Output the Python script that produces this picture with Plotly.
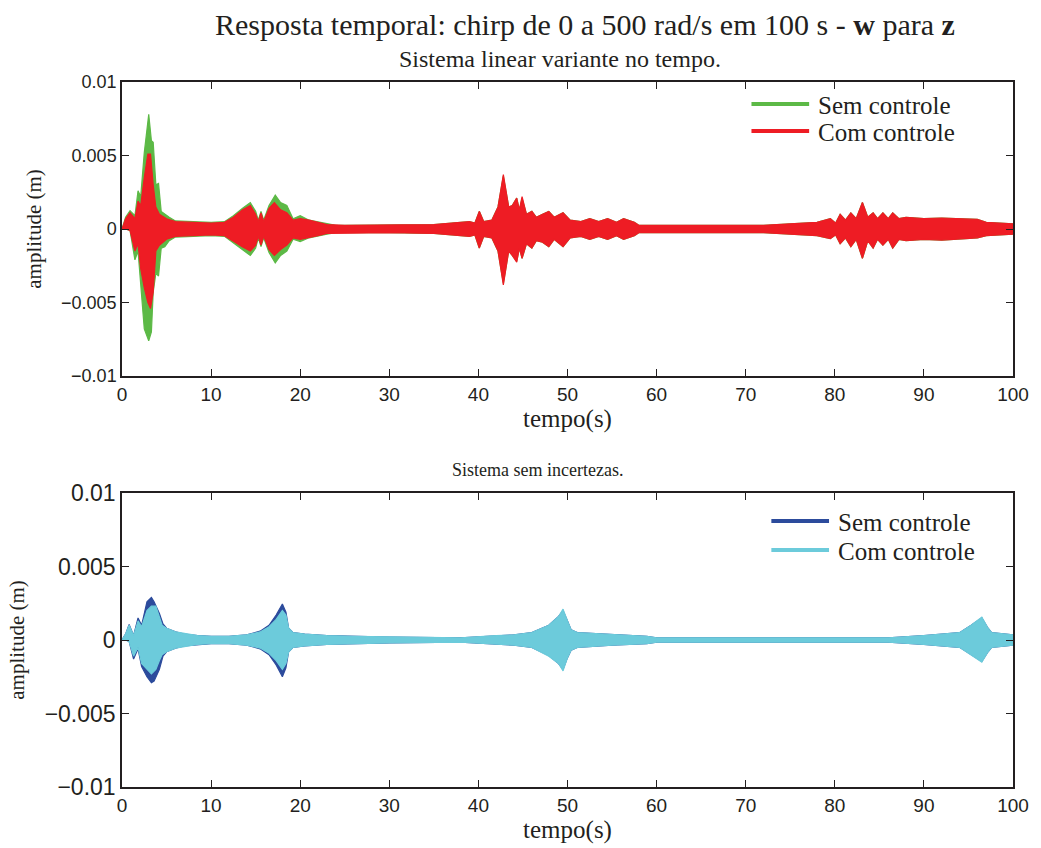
import numpy as np
import plotly.graph_objects as go

# Envelope of the response (upper / lower bound), amplitudes in units of 1e-3 m
# --- Sistema linear variante no tempo ---
t_sem_lv = [0, 0.4, 0.9, 1.45, 1.8, 2.1, 2.5, 3.0, 3.3, 3.5, 3.8, 4.1, 4.4, 4.8, 5.3, 6, 8, 10,
            11.5, 12.5, 13.5, 14.4, 15.0, 15.3, 15.6, 15.9, 16.5, 17.2, 17.8, 18.5, 19.2, 20, 21,
            22, 23, 24,
            25, 30, 35, 37, 39, 39.6, 40.1, 40.6, 41.5, 42.2, 42.8, 43.4, 43.8, 44.3, 44.6, 44.9,
            45.4, 46.0, 46.5, 47.2, 47.9, 48.5, 49.5, 50.3, 51.5, 52.5, 53.5, 54.5, 55.5, 56.3,
            57.5, 58, 65, 72, 75, 78, 79.5, 80.1, 80.6, 81.2, 81.8, 82.4, 83.1, 83.7, 84.3, 84.8,
            85.4, 86.0, 86.5, 87.2, 88, 90, 92, 94, 96, 97, 100]
up_sem_lv = [0, 0.8, 1.25, 0.9, 2.6, 2.2, 5.2, 7.8, 6.0, 5.9, 3.0, 3.1, 1.2, 1.0, 0.8, 0.55, 0.5,
             0.45, 0.5, 0.9, 1.4, 1.8, 1.2, 0.6, 1.2, 0.6, 1.6, 2.3, 1.8, 1.6, 0.7, 0.9, 0.6,
             0.5, 0.35, 0.25,
             0.25, 0.25, 0.3, 0.4, 0.5, 0.4, 1.2, 0.5, 0.6, 1.5, 3.6, 1.5, 1.6, 2.1, 1.3, 2.1,
             1.0, 1.2, 0.8, 1.0, 1.2, 0.8, 1.1, 0.6, 0.5, 0.7, 0.5, 0.7, 0.45, 0.7, 0.45, 0.25,
             0.25, 0.25, 0.35, 0.45, 0.7, 0.4, 1.0, 0.6, 1.1, 0.7, 1.8, 0.8, 1.1, 0.7, 1.1, 0.7,
             1.1, 0.7, 0.8, 0.7, 0.75, 0.7, 0.65, 0.45, 0.35]
lo_sem_lv = [0, 0, -0.1, -2.1, -1.5, -3.7, -6.8, -7.6, -7.0, -4.3, -3.0, -3.2, -1.3, -1.2, -0.8,
             -0.55, -0.5, -0.45, -0.5, -0.9, -1.4, -1.8, -1.3, -0.6, -1.2, -0.6, -1.6, -2.3, -1.8,
             -1.5, -0.7, -0.85, -0.6, -0.5, -0.35, -0.25,
             -0.25, -0.25, -0.3, -0.4, -0.5, -0.4, -1.3, -0.5, -0.6, -1.5, -3.7, -1.5, -1.8,
             -2.2, -1.3, -2.0, -1.0, -1.3, -0.8, -0.9, -1.2, -0.7, -1.2, -0.6, -0.5, -0.7, -0.5,
             -0.7, -0.45, -0.7, -0.45, -0.25, -0.25, -0.25, -0.35, -0.45, -0.65, -0.4, -1.0,
             -0.6, -1.2, -0.7, -2.0, -0.8, -1.3, -0.7, -1.1, -0.7, -1.3, -0.7, -0.8, -0.7, -0.75,
             -0.7, -0.6, -0.45, -0.35]

t_com_lv = [0, 0.4, 0.9, 1.45, 1.8, 2.1, 2.5, 2.9, 3.2, 3.5, 3.8, 4.2, 5, 6, 8, 10, 11.5, 12.5,
            13.5, 14.4, 15.0, 15.3, 15.6, 15.9, 16.5, 17.1, 17.8, 18.5, 19.2, 20, 21, 22, 23, 25,
            30, 35, 37, 39, 39.6, 40.1, 40.6, 41.5, 42.2, 42.8, 43.4, 43.8, 44.3, 44.6, 44.9,
            45.4, 46.0, 46.5, 47.2, 47.9, 48.5, 49.5, 50.3, 51.5, 52.5, 53.5, 54.5, 55.5, 56.3,
            57.5, 58, 65, 72, 75, 78, 79.5, 80.1, 80.6, 81.2, 81.8, 82.4, 83.1, 83.7, 84.3, 84.8,
            85.4, 86.0, 86.5, 87.2, 88, 90, 92, 94, 96, 97, 100]
up_com_lv = [0, 0.7, 1.1, 0.7, 1.9, 1.6, 3.5, 5.1, 5.1, 3.0, 1.5, 1.0, 0.7, 0.5, 0.45, 0.4, 0.45,
             0.8, 1.3, 1.6, 1.0, 0.5, 1.1, 0.5, 1.4, 1.8, 1.3, 1.1, 0.6, 0.7, 0.6, 0.45, 0.3,
             0.25, 0.25, 0.3, 0.4, 0.5, 0.4, 1.2, 0.5, 0.6, 1.5, 3.7, 1.5, 1.6, 2.1, 1.3, 2.2,
             1.0, 1.2, 0.8, 1.0, 1.2, 0.8, 1.1, 0.6, 0.5, 0.7, 0.5, 0.7, 0.45, 0.7, 0.45, 0.25,
             0.25, 0.25, 0.35, 0.45, 0.7, 0.4, 1.0, 0.6, 1.1, 0.7, 1.8, 0.8, 1.1, 0.7, 1.1, 0.7,
             1.1, 0.7, 0.8, 0.7, 0.75, 0.7, 0.65, 0.45, 0.35]
lo_com_lv = [0, 0, -0.1, -1.5, -1.0, -2.7, -4.0, -5.0, -5.4, -4.3, -1.5, -1.1, -0.7, -0.5, -0.45,
             -0.4, -0.45, -0.8, -1.2, -1.5, -1.1, -0.5, -1.1, -0.5, -1.4, -1.8, -1.4, -1.1, -0.6,
             -0.7, -0.55, -0.45, -0.3, -0.25, -0.25, -0.3, -0.4, -0.5, -0.4, -1.3, -0.5, -0.6,
             -1.5, -3.8, -1.5, -1.8, -2.25, -1.3, -2.0, -1.0, -1.3, -0.8, -0.9, -1.2, -0.7, -1.2,
             -0.6, -0.5, -0.7, -0.5, -0.7, -0.45, -0.7, -0.45, -0.25, -0.25, -0.25, -0.35, -0.45,
             -0.65, -0.4, -1.0, -0.6, -1.2, -0.7, -2.0, -0.8, -1.3, -0.7, -1.1, -0.7, -1.3, -0.7,
             -0.8, -0.7, -0.75, -0.7, -0.6, -0.45, -0.35]

# --- Sistema sem incertezas ---
t_sem_si = [0, 0.4, 0.8, 1.3, 1.8, 2.2, 2.8, 3.3, 3.6, 4.2, 4.6, 5, 6, 7, 8.5, 10, 12, 14, 15.5,
            16.5, 17.3, 18.0, 18.4, 18.7, 19.2, 20.5, 23,
            26, 30, 38, 42, 44, 46, 47.9, 49, 49.5, 50.0, 50.4, 51.1, 55, 58.9, 60, 86, 90, 94,
            95.3, 96.5, 97.2, 97.6, 100]
up_sem_si = [0, 0.4, 1.05, 0.3, 1.5, 1.0, 2.6, 2.9, 2.6, 1.8, 1.1, 0.8, 0.55, 0.4, 0.3, 0.25,
             0.25, 0.35, 0.6, 1.0, 1.7, 2.45, 1.9, 0.8, 0.5, 0.4, 0.3,
             0.25, 0.2, 0.15, 0.3, 0.35, 0.5, 1.0, 1.6, 2.0, 1.3, 0.7, 0.5, 0.35, 0.25, 0.15,
             0.15, 0.3, 0.5, 1.0, 1.5, 0.8, 0.5, 0.35]
lo_sem_si = [0, 0, -0.1, -1.3, -0.6, -1.8, -2.5, -2.9, -2.8, -2.0, -1.1, -0.8, -0.55, -0.4, -0.3,
             -0.25, -0.25, -0.35, -0.6, -1.0, -1.7, -2.5, -1.9, -0.8, -0.5, -0.4, -0.3,
             -0.25, -0.2, -0.15, -0.3, -0.35, -0.5, -1.05, -1.6, -2.0, -1.2, -0.7, -0.5, -0.35,
             -0.25, -0.15, -0.15, -0.3, -0.5, -1.0, -1.45, -0.8, -0.5, -0.35]

t_com_si = [0, 0.4, 0.8, 1.3, 1.8, 2.2, 2.8, 3.3, 3.8, 4.2, 4.5, 5, 6, 7, 8.5, 10, 12, 14, 15.5,
            16.5, 17.3, 18.0, 18.4, 18.7, 19.2, 20.5, 23, 26, 30, 38, 42, 44, 46, 47.9, 49,
            49.5, 50.0, 50.4, 51.1, 55, 58.9, 60, 86, 90, 94, 95.3, 96.5, 97.2, 97.6, 100]
up_com_si = [0, 0.4, 1.0, 0.3, 1.3, 0.9, 2.0, 2.3, 2.3, 1.6, 1.0, 0.8, 0.55, 0.45, 0.3, 0.25,
             0.25, 0.35, 0.55, 0.9, 1.4, 2.0, 1.7, 0.8, 0.5, 0.4, 0.3, 0.25, 0.2, 0.15, 0.3,
             0.35, 0.5, 1.0, 1.6, 2.1, 1.3, 0.7, 0.5, 0.35, 0.25, 0.15, 0.15, 0.3, 0.5, 1.0,
             1.55, 0.8, 0.5, 0.35]
lo_com_si = [0, 0, -0.1, -1.1, -0.5, -1.6, -2.0, -2.3, -2.0, -1.4, -1.0, -0.8, -0.55, -0.45,
             -0.3, -0.25, -0.25, -0.35, -0.55, -0.9, -1.4, -2.0, -1.6, -0.8, -0.5, -0.4, -0.3,
             -0.25, -0.2, -0.15, -0.3, -0.35, -0.5, -1.1, -1.6, -2.1, -1.2, -0.7, -0.5, -0.35,
             -0.25, -0.15, -0.15, -0.3, -0.5, -1.0, -1.5, -0.8, -0.5, -0.35]

series_names = ["Sem controle", "Com controle"]
y_ticks = [-0.01, -0.005, 0, 0.005, 0.01]
y_tick_text = ["\u22120.01", "\u22120.005", "0", "0.005", "0.01"]
x_ticks = list(range(0, 101, 10))

UNIT = 1e-3  # envelope values are stored in mm

GREEN = "#5cb946"
RED = "#ee1c24"
DARK_BLUE = "#2c4b9c"
LIGHT_BLUE = "#6ccbdb"
INK = "#231f20"

SERIF = "Liberation Serif, Times New Roman, serif"
SANS = "Liberation Sans, Arial, sans-serif"

# Figure geometry (pixels)
W, H = 1041, 848
ML, MR, MT, MB = 122, 23, 82, 61
PW, PH = W - ML - MR, H - MT - MB


def px(xp):
    return (xp - ML) / PW


def py(yp):
    return (H - MB - yp) / PH


def band(t, up, lo, color, xa, ya):
    assert len(t) == len(up) == len(lo)
    t = list(t)
    y = np.r_[np.asarray(up, float), np.asarray(lo, float)[::-1]] * UNIT
    return go.Scatter(x=t + t[::-1], y=y, fill="toself", fillcolor=color, mode="lines",
                      line=dict(color=color, width=1.2), showlegend=False,
                      hoverinfo="skip", xaxis=xa, yaxis=ya)


fig = go.Figure()
fig.add_trace(band(t_sem_lv, up_sem_lv, lo_sem_lv, GREEN, "x", "y"))
fig.add_trace(band(t_com_lv, up_com_lv, lo_com_lv, RED, "x", "y"))
fig.add_trace(band(t_sem_si, up_sem_si, lo_sem_si, DARK_BLUE, "x2", "y2"))
fig.add_trace(band(t_com_si, up_com_si, lo_com_si, LIGHT_BLUE, "x2", "y2"))

axis_common = dict(showline=True, linecolor=INK, linewidth=1.5, mirror="ticks",
                   ticks="inside", ticklen=7, tickcolor=INK, tickwidth=1,
                   showgrid=False, zeroline=False)
xaxis_common = dict(axis_common, range=[0, 100], tickvals=x_ticks,
                    tickfont=dict(family=SANS, size=19, color=INK),
                    title=dict(text="tempo(s)", font=dict(family=SERIF, size=25, color=INK),
                               standoff=0))
ytitle = dict(text="amplitude (m)", font=dict(family=SERIF, size=21, color=INK), standoff=14)

# Legend boxes: sample line + label, one block per panel
legend_shapes, legend_labels = [], []
for (x0, ys, colors) in [(755, (104, 131), (GREEN, RED)),
                         (775, (521, 550), (DARK_BLUE, LIGHT_BLUE))]:
    for yv, col, name in zip(ys, colors, series_names):
        legend_shapes.append(dict(type="line", xref="paper", yref="paper",
                                  x0=px(x0), x1=px(x0 + 58), y0=py(yv), y1=py(yv),
                                  line=dict(color=col, width=4)))
        legend_labels.append(dict(text=name, xref="paper", yref="paper", x=px(x0 + 65),
                                  y=py(yv + 1), xanchor="left", yanchor="middle",
                                  showarrow=False,
                                  font=dict(family=SERIF, size=25, color=INK)))

fig.update_layout(
    width=W, height=H,
    margin=dict(l=ML, r=MR, t=MT, b=MB),
    paper_bgcolor="white", plot_bgcolor="white",
    showlegend=False,
    xaxis=dict(xaxis_common, domain=[0, 1], anchor="y"),
    yaxis=dict(axis_common, domain=[py(376), 1], anchor="x", range=[-0.01, 0.01],
               tickvals=y_ticks, ticktext=y_tick_text,
               tickfont=dict(family=SANS, size=18, color=INK), title=ytitle),
    xaxis2=dict(xaxis_common, domain=[0, 1], anchor="y2"),
    yaxis2=dict(axis_common, domain=[0, py(493)], anchor="x2", range=[-0.01, 0.01],
                tickvals=y_ticks, ticktext=y_tick_text,
                tickfont=dict(family=SANS, size=23, color=INK), title=ytitle),
    shapes=legend_shapes,
    annotations=[
        dict(text="Resposta temporal: chirp de 0 a 500 rad/s em 100 s - <b>w</b> para <b>z</b>",
             xref="paper", yref="paper", x=px(588), y=py(25),
             xanchor="center", yanchor="middle", showarrow=False,
             font=dict(family=SERIF, size=30, color=INK)),
        dict(text="Sistema linear variante no tempo.", xref="paper", yref="paper",
             x=px(562), y=py(59), xanchor="center", yanchor="middle",
             showarrow=False, font=dict(family=SERIF, size=24, color=INK)),
        dict(text="Sistema sem incertezas.", xref="paper", yref="paper",
             x=px(540), y=py(470), xanchor="center", yanchor="middle",
             showarrow=False, font=dict(family=SERIF, size=18, color=INK)),
    ] + legend_labels,
)

fig.write_html("out.html")
